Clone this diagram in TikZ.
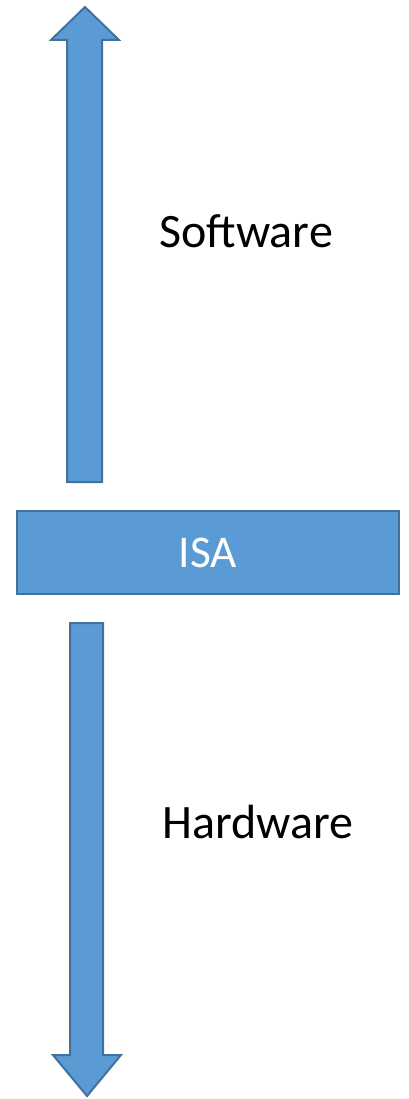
\documentclass[tikz,border=0pt]{standalone}
\usepackage{fontspec}
\setmainfont{Carlito}
\usetikzlibrary{positioning}
\definecolor{blockfill}{HTML}{5B9BD5}
\definecolor{blockline}{HTML}{41719C}
\tikzset{
    block/.style={fill=blockfill, draw=blockline, line width=1.5pt, line join=miter},
    label/.style={font=\fontsize{36}{40}\selectfont, inner sep=0pt, anchor=base west}
}

\begin{document}
\begin{tikzpicture}[x=0.75pt, y=-0.75pt]
                \useasboundingbox (0,0) rectangle (409,1099);

                %Nodes
                \node[block, minimum width=286.5pt, minimum height=62.25pt, inner sep=0pt,
                      text=white, font=\fontsize{34}{38}\selectfont] at (208,552.5) (isa) {ISA};
                \node[label] at (159,247) (sw) {Software};
                \node[label] at (162,838) (hw) {Hardware};

                %Arrows
                \draw[block] (85,7) -- (119,40) -- (102,40) -- (102,482)
                             -- (67,482) -- (67,40) -- (51,40) -- cycle;
                \draw[block] (70,623) -- (103,623) -- (103,1055) -- (121,1055)
                             -- (87,1096) -- (53,1055) -- (70,1055) -- cycle;
            \end{tikzpicture}
\end{document}
